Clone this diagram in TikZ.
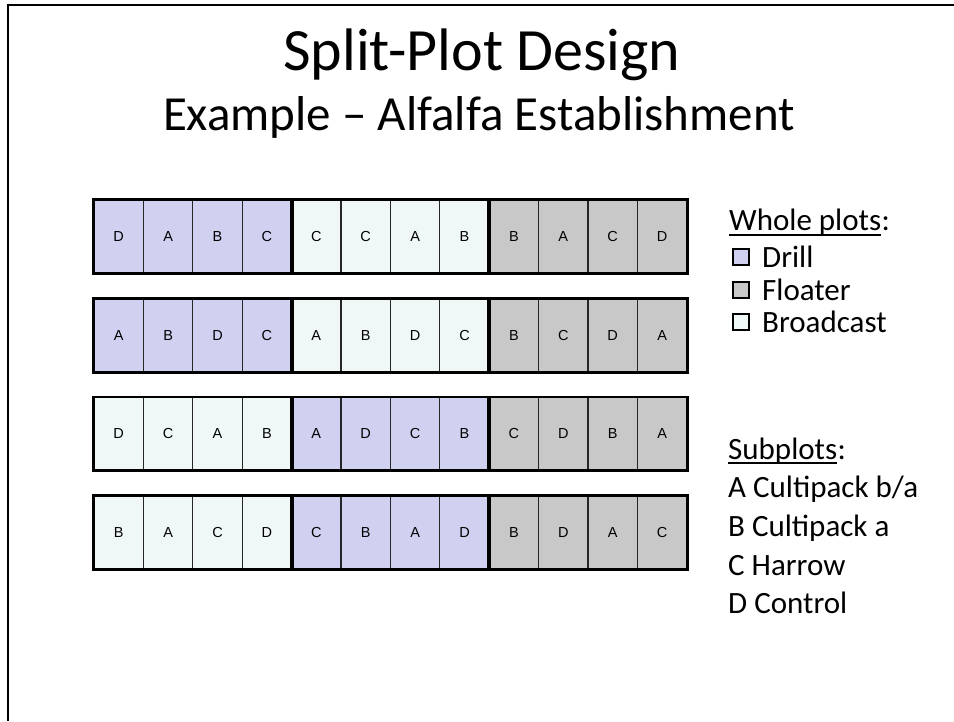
\documentclass[tikz,border=0pt]{standalone}
\usepackage{fontspec}
\setmainfont{Carlito}
\newfontfamily\cellfont{Liberation Sans}
\definecolor{drill}{RGB}{208,208,240}
\definecolor{bcast}{RGB}{240,248,247}
\definecolor{floater}{RGB}{200,200,200}
\begin{document}
\begin{tikzpicture}[x=1pt,y=-1pt,
  cell/.style={draw=black!85, line width=1.2pt, minimum width=49.4pt,
    minimum height=72.5pt, inner sep=0pt, anchor=center,
    font=\cellfont\fontsize{14.5}{17}\selectfont},
  groupbox/.style={line width=2.8pt},
  txt/.style={anchor=base west, inner sep=0pt, font=\fontsize{31}{36}\selectfont},
  keybox/.style={draw=black, line width=2pt, minimum size=16pt, inner sep=0pt}]
\useasboundingbox (0,0) rectangle (954,721);

% slide frame
\draw[line width=2pt] (8,721) -- (8,5) -- (954,5);

% titles
\node[anchor=base, inner sep=0pt, font=\fontsize{60}{70}\selectfont] (title) at (482,70) {Split-Plot Design};
\node[anchor=base, inner sep=0pt, font=\fontsize{49}{58}\selectfont] (subtitle) at (479,130) {Example – Alfalfa Establishment};

% field layout: four replicates, each with three whole plots of four subplots
\foreach \r/\yc/\ga/\gb/\gc/\labs in {
    1/236.25/drill/bcast/floater/{D,A,B,C,C,C,A,B,B,A,C,D},
    2/335.25/drill/bcast/floater/{A,B,D,C,A,B,D,C,B,C,D,A},
    3/433.75/bcast/drill/floater/{D,C,A,B,A,D,C,B,C,D,B,A},
    4/532.25/bcast/drill/floater/{B,A,C,D,C,B,A,D,B,D,A,C}} {
  \foreach \l [count=\i] in \labs {
    \ifnum\i<5 \def\fc{\ga}\else\ifnum\i<9 \def\fc{\gb}\else\def\fc{\gc}\fi\fi
    \node[cell, fill=\fc] (c\r-\i) at ({94+(\i-0.5)*49.4}, \yc) {\l};
  }
  \draw[groupbox] (c\r-1.north west) rectangle (c\r-4.south east);
  \draw[groupbox] (c\r-5.north west) rectangle (c\r-8.south east);
  \draw[groupbox] (c\r-9.north west) rectangle (c\r-12.south east);
}

% whole-plot legend
\node[txt] (wp) at (729,230) {Whole plots};
\node[txt] (wpc) at (wp.base east) {:};
\draw[line width=2pt] ([yshift=-5pt]wp.base west) -- ([yshift=-5pt]wp.base east);
\node[keybox, fill=drill] (kd) at (740.5,257) {};
\node[txt] (ld) at (762,267) {Drill};
\node[keybox, fill=floater] (kf) at (740.5,290) {};
\node[txt] (lf) at (762,300.5) {Floater};
\node[keybox, fill=bcast] (kb) at (740.5,322) {};
\node[txt] (lb) at (762,332) {Broadcast};

% subplot legend
\node[txt] (sp) at (728,459) {Subplots};
\node[txt] (spc) at (sp.base east) {:};
\draw[line width=2pt] ([yshift=-4pt]sp.base west) -- ([yshift=-4pt]sp.base east);
\node[txt] (sa) at (728,497.5) {A Cultipack b/a};
\node[txt] (sb) at (728,536) {B Cultipack a};
\node[txt] (sc) at (728,575) {C Harrow};
\node[txt] (sd) at (728,613) {D Control};
\end{tikzpicture}
\end{document}
